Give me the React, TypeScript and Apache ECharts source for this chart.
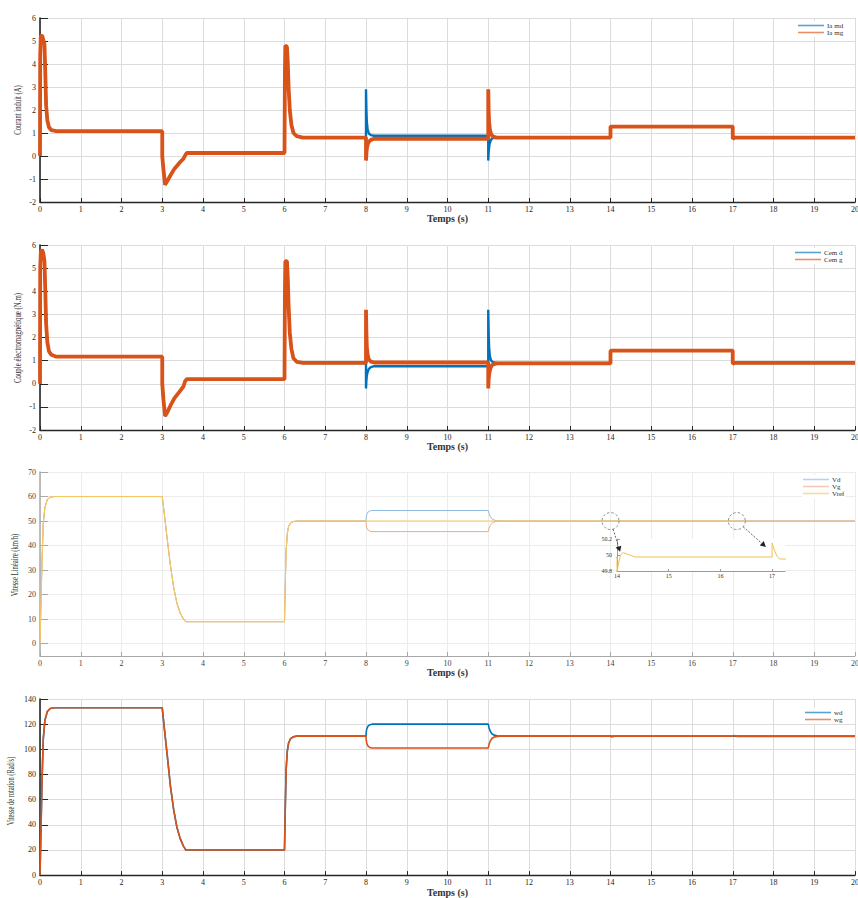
import React, { useEffect, useRef } from "react";
import * as echarts from "echarts";

type Pt = [number, number];

// ---------- Plot 1 : Courant induit (A) ----------
const iaCommon: Pt[] = [
  [0, 0], [0.005, 4.4], [0.02, 5.2], [0.05, 5.25], [0.08, 5.05], [0.11, 4.85], [0.13, 3.6],
  [0.15, 2.2], [0.18, 1.55], [0.22, 1.25], [0.28, 1.12], [0.4, 1.08], [3.0, 1.08], [3.0, 0.0],
  [3.03, -0.6], [3.07, -1.25], [3.12, -1.1], [3.2, -0.85], [3.3, -0.55], [3.42, -0.3],
  [3.52, -0.12], [3.56, 0.02], [3.6, 0.13], [6.0, 0.13], [6.01, 3.5], [6.02, 4.8], [6.06, 4.75],
  [6.08, 4.1], [6.1, 3.0], [6.13, 2.0], [6.17, 1.35], [6.22, 1.0], [6.3, 0.86], [6.45, 0.8], [8.0, 0.8],
];
const iaMdTail: Pt[] = [
  [8.0, 2.9], [8.01, 2.0], [8.02, 1.5], [8.04, 1.15], [8.07, 0.98], [8.12, 0.91], [8.2, 0.88],
  [11.0, 0.88], [11.0, -0.2], [11.01, 0.2], [11.03, 0.5], [11.06, 0.68], [11.1, 0.77], [11.2, 0.8],
  [14.0, 0.8], [14.0, 1.3], [17.0, 1.3], [17.0, 0.78], [17.05, 0.8], [20, 0.8],
];
const iaMgTail: Pt[] = [
  [8.0, -0.2], [8.01, 0.1], [8.02, 0.3], [8.04, 0.5], [8.07, 0.62], [8.12, 0.7], [8.2, 0.75],
  [11.0, 0.75], [11.0, 2.9], [11.01, 2.0], [11.02, 1.5], [11.04, 1.15], [11.07, 0.95], [11.12, 0.85],
  [11.2, 0.8], [14.0, 0.8], [14.0, 1.28], [17.0, 1.28], [17.0, 0.75], [17.05, 0.8], [20, 0.8],
];

// ---------- Plot 2 : Couple électromagnétique (N.m) ----------
const cemCommon: Pt[] = [
  [0, 0], [0.005, 5.0], [0.02, 5.7], [0.05, 5.8], [0.08, 5.65], [0.11, 5.3], [0.13, 4.0],
  [0.15, 2.6], [0.18, 1.8], [0.22, 1.4], [0.28, 1.25], [0.4, 1.17], [3.0, 1.17], [3.0, 0.0],
  [3.03, -0.7], [3.07, -1.4], [3.12, -1.25], [3.2, -0.95], [3.3, -0.62], [3.42, -0.35],
  [3.52, -0.12], [3.56, 0.1], [3.6, 0.2], [6.0, 0.2], [6.01, 3.8], [6.02, 5.3], [6.06, 5.3],
  [6.08, 4.6], [6.1, 3.4], [6.13, 2.2], [6.17, 1.5], [6.22, 1.1], [6.3, 0.95], [6.45, 0.9], [8.0, 0.9],
];
const cemDTail: Pt[] = [
  [8.0, -0.2], [8.01, 0.15], [8.02, 0.35], [8.04, 0.52], [8.07, 0.64], [8.12, 0.72], [8.2, 0.76],
  [11.0, 0.76], [11.0, 3.2], [11.01, 2.2], [11.02, 1.6], [11.04, 1.2], [11.07, 1.0], [11.12, 0.93],
  [11.2, 0.9], [14.0, 0.9], [14.0, 1.45], [17.0, 1.45], [17.0, 0.88], [17.05, 0.9], [20, 0.9],
];
const cemGTail: Pt[] = [
  [8.0, 3.2], [8.01, 2.2], [8.02, 1.6], [8.04, 1.25], [8.07, 1.05], [8.12, 0.96], [8.2, 0.92],
  [11.0, 0.92], [11.0, -0.2], [11.01, 0.2], [11.03, 0.5], [11.06, 0.7], [11.1, 0.82], [11.2, 0.88],
  [14.0, 0.88], [14.0, 1.43], [17.0, 1.43], [17.0, 0.87], [17.05, 0.9], [20, 0.9],
];

// ---------- Plot 3 : Vitesse Linéaire (km/h) ----------
const vCommon: Pt[] = [
  [0, 0], [0.02, 14], [0.05, 34], [0.08, 49], [0.12, 55.5], [0.18, 58.8], [0.25, 59.8], [0.35, 60],
  [3.0, 60], [3.05, 53], [3.12, 43], [3.2, 32], [3.28, 23], [3.36, 16.5], [3.44, 12.5], [3.52, 10],
  [3.58, 9], [6.0, 9], [6.02, 25], [6.04, 38], [6.07, 45], [6.1, 47.8], [6.15, 49.2], [6.22, 49.8],
  [6.3, 50], [8.0, 50],
];
const vdTail: Pt[] = [
  [8.005, 51.5], [8.02, 52.8], [8.05, 53.7], [8.09, 54.1], [8.15, 54.3], [11.0, 54.3], [11.02, 53.0],
  [11.05, 51.8], [11.09, 50.9], [11.14, 50.4], [11.22, 50.1], [11.3, 50], [20, 50],
];
const vgTail: Pt[] = [
  [8.005, 48.5], [8.02, 47.2], [8.05, 46.3], [8.09, 45.9], [8.15, 45.7], [11.0, 45.7], [11.02, 47.0],
  [11.05, 48.2], [11.09, 49.1], [11.14, 49.6], [11.22, 49.9], [11.3, 50], [20, 50],
];
const vrefTail: Pt[] = [
  [13.5, 49.97], [14.0, 49.97], [14.0, 49.78], [14.03, 49.9], [14.07, 50.0], [14.12, 50.03],
  [14.2, 50.01], [14.35, 49.975], [17.0, 49.975], [17.0, 50.15], [17.05, 50.05], [17.1, 49.98],
  [17.15, 49.95], [17.25, 49.95], [20, 49.95],
];
const vTicks = [0, 10, 20, 30, 40, 50, 60, 70];

// ---------- Plot 4 : Vitesse de rotation (Rad/s) ----------
const wCommon: Pt[] = [
  [0, 0], [0.02, 30], [0.05, 75], [0.08, 108], [0.12, 123], [0.18, 130], [0.25, 132.5], [0.35, 133],
  [3.0, 133], [3.05, 117], [3.12, 96], [3.2, 71], [3.28, 52], [3.36, 38], [3.44, 29], [3.52, 23],
  [3.58, 20], [6.0, 20], [6.02, 55], [6.04, 84], [6.07, 99], [6.1, 105], [6.15, 108.5], [6.22, 110],
  [6.3, 110.5], [8.0, 110.5],
];
const wdTail: Pt[] = [
  [8.005, 113.5], [8.02, 116.5], [8.05, 118.5], [8.09, 119.5], [8.15, 120], [11.0, 120], [11.02, 117],
  [11.05, 114.4], [11.09, 112.4], [11.14, 111.3], [11.22, 110.7], [11.3, 110.5], [20, 110.5],
];
const wgTail: Pt[] = [
  [8.005, 107.5], [8.02, 104.5], [8.05, 102.5], [8.09, 101.5], [8.15, 101], [11.0, 101], [11.02, 104],
  [11.05, 106.6], [11.09, 108.6], [11.14, 109.7], [11.22, 110.3], [11.3, 110.5], [14.0, 110.5],
  [14.03, 109.8], [14.1, 110.4], [17.0, 110.4], [17.03, 111], [17.1, 110.3], [20, 110.3],
];

const yTitles = [
  "Courant induit (A)",
  "Couple électromagnétique (N.m)",
  "Vitesse Linéaire (km/h)",
  "Vitesse de rotation (Rad/s)",
];

const FONT = "'Liberation Serif', 'Times New Roman', serif";
const BLUE = "#0072BD";
const ORANGE = "#D95319";

export default function App() {
  const ref = useRef<HTMLDivElement>(null);

  useEffect(() => {
    if (!ref.current) return;
    const chart = echarts.init(ref.current, null, { renderer: "svg" });

    const grids = [
      { left: 40, top: 18, width: 820, height: 184 },
      { left: 40, top: 245, width: 820, height: 185 },
      { left: 40, top: 472, width: 820, height: 184 },
      { left: 40, top: 699, width: 820, height: 184 },
    ];

    const axisDark = "#262626";
    const axisLight = "#a8a8a8";

    const mkX = (i: number, light: boolean, nameGap: number) => ({
      type: "value",
      gridIndex: i,
      min: 0,
      max: 20,
      interval: 1,
      name: "Temps (s)",
      nameLocation: "middle",
      nameGap,
      nameTextStyle: { fontFamily: FONT, fontSize: 10, fontWeight: "bold", color: "#333" },
      axisLine: { show: true, onZero: false, lineStyle: { color: light ? axisLight : axisDark, width: light ? 1 : 1.4 } },
      axisTick: { show: true, inside: true, length: 4, lineStyle: { color: light ? axisLight : axisDark } },
      axisLabel: { fontFamily: FONT, fontSize: 8, color: light ? "#444" : "#262626", margin: 3 },
      splitLine: { show: true, lineStyle: { color: light ? "#ececec" : "#dcdcdc", width: 1 } },
    });

    const mkY = (i: number, light: boolean, extra: any) => ({
      type: "value",
      gridIndex: i,
      axisLine: { show: true, onZero: false, lineStyle: { color: light ? axisLight : axisDark, width: light ? 1.5 : 1.6 } },
      axisTick: { show: true, inside: true, length: 8, lineStyle: { color: light ? axisLight : axisDark } },
      axisLabel: { fontFamily: FONT, fontSize: 8, color: light ? "#444" : "#262626", margin: 4 },
      splitLine: { show: true, lineStyle: { color: light ? "#ececec" : "#dcdcdc", width: 1 } },
      ...extra,
    });

    const line = (name: string, i: number, data: Pt[], color: string, width: number, extra: any = {}) => ({
      type: "line",
      name,
      xAxisIndex: i,
      yAxisIndex: i,
      data,
      showSymbol: false,
      symbol: "none",
      lineStyle: { color, width },
      itemStyle: { color },
      ...extra,
    });

    const mkLegend = (names: string[], left: number, top: number) => ({
      data: names,
      orient: "vertical",
      left,
      top,
      icon: "rect",
      itemWidth: 26,
      itemHeight: 1.6,
      itemGap: 0,
      padding: 1,
      backgroundColor: "#fff",
      itemStyle: { opacity: 0.65 },
      textStyle: { fontFamily: FONT, fontSize: 7, lineHeight: 6, color: "#333", padding: [0, 0, 0, -2] },
    });

    const V_LINE = { opacity: 0.85 };

    const option: any = {
      animation: false,
      backgroundColor: "#fff",
      textStyle: { fontFamily: FONT },
      grid: [
        ...grids,
        { left: 617, top: 539, width: 168, height: 32, show: true, backgroundColor: "#fff", borderWidth: 0, z: 2 },
      ],
      xAxis: [
        mkX(0, false, 8),
        mkX(1, false, 7),
        mkX(2, true, 9),
        mkX(3, false, 8),
        {
          type: "value",
          gridIndex: 4,
          min: 14,
          max: 17.25,
          interval: 1,
          z: 3,
          axisLine: { show: true, onZero: false, lineStyle: { color: "#9a9a9a", width: 1 } },
          axisTick: { show: true, inside: true, length: 2, lineStyle: { color: "#9a9a9a" } },
          axisLabel: { fontFamily: FONT, fontSize: 6, color: "#333", margin: 2, showMaxLabel: false },
          splitLine: { show: false },
        },
      ],
      yAxis: [
        mkY(0, false, { min: -2, max: 6, interval: 1 }),
        mkY(1, false, { min: -2, max: 6, interval: 1 }),
        mkY(2, true, {
          min: -5,
          max: 70,
          axisTick: { show: true, inside: true, length: 8, customValues: vTicks, lineStyle: { color: axisLight } },
          axisLabel: { fontFamily: FONT, fontSize: 8, color: "#444", margin: 4, customValues: vTicks },
        }),
        mkY(3, false, { min: 0, max: 140, interval: 20 }),
        {
          type: "value",
          gridIndex: 4,
          min: 49.8,
          max: 50.2,
          interval: 0.2,
          z: 3,
          axisLine: { show: true, onZero: false, lineStyle: { color: "#9a9a9a", width: 1 } },
          axisTick: { show: true, inside: true, length: 3, lineStyle: { color: "#9a9a9a" } },
          axisLabel: { fontFamily: FONT, fontSize: 6, color: "#333", margin: 5 },
          splitLine: { show: false },
        },
      ],
      legend: [
        mkLegend(["Ia md", "Ia mg"], 797, 21),
        mkLegend(["Cem d", "Cem g"], 794, 248),
        mkLegend(["Vd", "Vg", "Vref"], 802, 475),
        mkLegend(["wd", "wg"], 804, 708),
      ],
      series: [
        line("Ia md", 0, [...iaCommon, ...iaMdTail], BLUE, 2.4),
        line("Ia mg", 0, [...iaCommon, ...iaMgTail], ORANGE, 3.8),
        line("Cem d", 1, [...cemCommon, ...cemDTail], BLUE, 2.4),
        line("Cem g", 1, [...cemCommon, ...cemGTail], ORANGE, 3.8),
        line("Vd", 2, [...vCommon, ...vdTail], "#8fbbe2", 1, V_LINE),
        line("Vg", 2, [...vCommon, ...vgTail], "#f2a98a", 1, V_LINE),
        line("Vref", 2, [...vCommon, [13.5, 50] as Pt, ...vrefTail.slice(1)], "#f3c862", 1.1, V_LINE),
        line("wd", 3, [...wCommon, ...wdTail], BLUE, 1.6),
        line("wg", 3, [...wCommon, ...wgTail], ORANGE, 1.6),
        line("Vref zoom", 4, vrefTail, "#f0c050", 1, { z: 4, legendHoverLink: false }),
      ],
    };

    chart.setOption(option);

    // y-axis titles (condensed, rotated)
    const titlePos = [
      { x: 18, y: 110, sx: 0.7 },
      { x: 18, y: 338, sx: 0.72 },
      { x: 15, y: 565, sx: 0.7 },
      { x: 11, y: 791, sx: 0.68 },
    ];
    const graphics: any[] = yTitles.map((t, i) => ({
      type: "text",
      x: titlePos[i].x,
      y: titlePos[i].y,
      rotation: Math.PI / 2,
      scaleX: titlePos[i].sx,
      scaleY: 1,
      style: {
        text: t,
        fontFamily: FONT,
        fontSize: 9.5,
        fill: "#333",
        textAlign: "center",
        textVerticalAlign: "middle",
      },
      z: 10,
    }));

    // zoom annotations: dashed circles + dashed arrows
    const toPx = (g: number, p: Pt) => chart.convertToPixel({ gridIndex: g }, p) as number[];
    const marks = [
      { from: toPx(2, [14, 50]), to: toPx(4, [14.06, 50.04]) },
      { from: toPx(2, [17.1, 50]), to: toPx(4, [16.88, 50.1]) },
    ];
    const R = 8.5;
    marks.forEach(({ from, to }) => {
      const [cx, cy] = from;
      const [tx, ty] = to;
      const dx = tx - cx;
      const dy = ty - cy;
      const len = Math.sqrt(dx * dx + dy * dy) || 1;
      const ux = dx / len;
      const uy = dy / len;
      const sx = cx + ux * R;
      const sy = cy + uy * R;
      const ah = 5.5;
      const aw = 3;
      const bx = tx - ux * ah;
      const by = ty - uy * ah;
      graphics.push(
        {
          type: "circle",
          shape: { cx, cy, r: R },
          style: { fill: "none", stroke: "#808080", lineWidth: 0.9, lineDash: [2.5, 2] },
          z: 10,
        },
        {
          type: "line",
          shape: { x1: sx, y1: sy, x2: bx, y2: by },
          style: { stroke: "#555", lineWidth: 0.9, lineDash: [2, 1.5] },
          z: 10,
        },
        {
          type: "polygon",
          shape: {
            points: [
              [tx, ty],
              [bx - uy * aw, by + ux * aw],
              [bx + uy * aw, by - ux * aw],
            ],
          },
          style: { fill: "#222", stroke: "none" },
          z: 10,
        }
      );
    });

    chart.setOption({ graphic: graphics });

    return () => {
      chart.dispose();
    };
  }, []);

  return (
    <div
      style={{
        position: "absolute",
        left: 0,
        top: 0,
        width: 858,
        height: 898,
        overflow: "hidden",
        background: "#fff",
      }}
    >
      <div ref={ref} style={{ width: 862, height: 898 }} />
    </div>
  );
}
